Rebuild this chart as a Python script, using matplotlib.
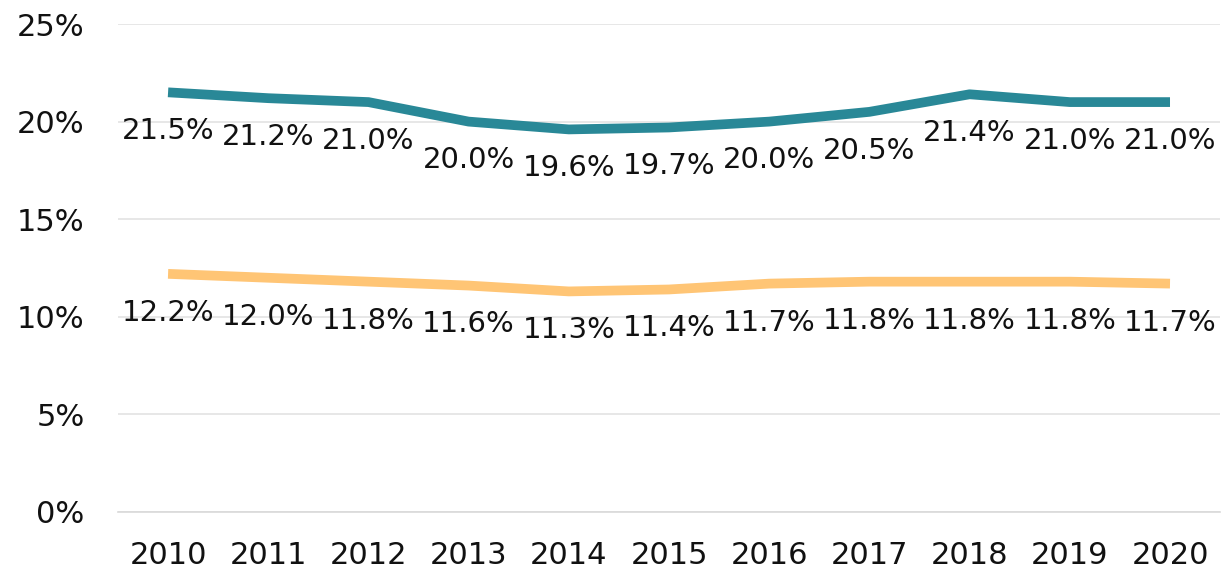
import numpy as np
import matplotlib
matplotlib.use("Agg")
import matplotlib.pyplot as plt
from matplotlib.ticker import FuncFormatter

# data
years = ['2010', '2011', '2012', '2013', '2014', '2015', '2016', '2017', '2018', '2019', '2020']
series_top = [21.5, 21.2, 21.0, 20.0, 19.6, 19.7, 20.0, 20.5, 21.4, 21.0, 21.0]
series_bottom = [12.2, 12.0, 11.8, 11.6, 11.3, 11.4, 11.7, 11.8, 11.8, 11.8, 11.7]
y_ticks = [0, 5, 10, 15, 20, 25]

teal = '#298897'
orange = '#FFC575'

plt.rcParams['font.family'] = ['DejaVu Sans']

fig = plt.figure(figsize=(12.25, 5.69), dpi=100)
ax = fig.add_axes([0.0963, 0.1002, 0.8997, 0.8576])

x = np.arange(len(years))
ax.plot(x, series_top, color=teal, linewidth=7, solid_capstyle='butt', zorder=3)
ax.plot(x, series_bottom, color=orange, linewidth=7, solid_capstyle='butt', zorder=3)

# value labels under each point
for xi, v in zip(x, series_top):
    ax.annotate(f'{v:.1f}%', (xi, v), xytext=(0, -28), textcoords='offset points',
                ha='center', va='center', fontsize=21, color='#111111')
for xi, v in zip(x, series_bottom):
    ax.annotate(f'{v:.1f}%', (xi, v), xytext=(0, -28), textcoords='offset points',
                ha='center', va='center', fontsize=21, color='#111111')

ax.set_xlim(-0.5, len(years) - 0.5)
ax.set_ylim(0, 25)
ax.set_xticks(x)
ax.set_xticklabels(years)
ax.set_yticks(y_ticks)
ax.yaxis.set_major_formatter(FuncFormatter(lambda v, p: f'{v:.0f}%'))

ax.grid(axis='y', color='#E3E3E3', linewidth=1.2)
ax.set_axisbelow(True)
for s in ['top', 'right', 'left']:
    ax.spines[s].set_visible(False)
ax.spines['bottom'].set_color('#D9D9D9')
ax.spines['bottom'].set_linewidth(1.2)
ax.tick_params(axis='both', length=0, labelsize=22, colors='#111111')
ax.tick_params(axis='x', pad=21)
ax.tick_params(axis='y', pad=24)
for lab in ax.get_yticklabels():
    lab.set_horizontalalignment('right')

fig.savefig('out.png', dpi=100)
